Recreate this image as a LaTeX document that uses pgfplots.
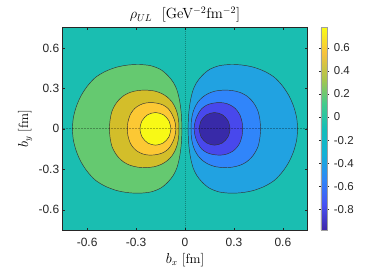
\documentclass[border=0pt]{standalone}
\usepackage{pgfplots}
\pgfplotsset{compat=1.18}
\usepackage{fontspec}
\newfontfamily\helv{Liberation Sans}
\definecolor{cBG}{RGB}{26,190,177}
\definecolor{cG}{RGB}{101,201,112}
\definecolor{cO}{RGB}{211,190,42}
\definecolor{cR}{RGB}{252,200,52}
\definecolor{cY}{RGB}{248,249,22}
\definecolor{cB1}{RGB}{33,162,225}
\definecolor{cB2}{RGB}{48,133,250}
\definecolor{cB3}{RGB}{72,72,236}
\definecolor{cB4}{RGB}{56,42,168}
\definecolor{frame}{RGB}{38,38,38}
\pgfplotsset{cf/.style={draw=black!80, line width=0.45bp, smooth, mark=none}}
\begin{document}
\begin{tikzpicture}
\path[use as bounding box] (0,0) rectangle (366bp,274bp);
\begin{axis}[
 at={(62.7bp,44bp)}, anchor=south west,
 scale only axis, width=244.6bp, height=202.3bp,
 xmin=-0.75, xmax=0.75, ymin=-0.75, ymax=0.75,
 xtick={-0.6,-0.3,0,0.3,0.6}, ytick={-0.6,-0.3,0,0.3,0.6},
 tick align=inside, major tick length=2.5bp,
 axis line style={frame, line width=0.5bp},
 tick style={frame, line width=0.5bp},
 axis background/.style={fill=cBG},
 /pgf/number format/assume math mode=true,
 tick label style={font=\helv\fontsize{12}{14}\selectfont, text=frame},
 xticklabel style={yshift=-5bp},
 xlabel={$b_x$ [fm]}, ylabel={$b_y$ [fm]},
 label style={font=\fontsize{13.5}{16}\selectfont},
 xlabel style={at={(axis description cs:0.5,-0.148)}, anchor=center},
 ylabel style={at={(axis description cs:-0.154,0.5)}, anchor=center},
 every axis title shift=0pt,
 title={$\rho_{UL}$\ \ [GeV$^{-2}$fm$^{-2}$]},
 title style={at={(axis description cs:0.5,1.043)}, anchor=base, inner sep=0pt, yshift=0pt, font=\fontsize{14.8}{17}\selectfont},
 colormap={parula}{rgb255(0cm)=(62,38,168); rgb255(1cm)=(72,82,244); rgb255(2cm)=(46,134,248); rgb255(3cm)=(18,177,214); rgb255(4cm)=(18,190,185); rgb255(5cm)=(66,203,140); rgb255(6cm)=(171,197,75); rgb255(7cm)=(247,194,60); rgb255(8cm)=(249,251,21)},
 point meta min=-0.979, point meta max=0.774,
 colorbar,
 colorbar style={
  at={(parent axis.north east)}, anchor=north west, xshift=5bp,
  scale only axis, width=6.6bp, height=202.3bp,
  ytick={-0.8,-0.6,-0.4,-0.2,0,0.2,0.4,0.6},
  /pgf/number format/assume math mode=true,
  yticklabel style={font=\helv\fontsize{11.5}{14}\selectfont, text=frame, xshift=1bp},
  tick align=outside, major tick length=2bp,
  axis line style={draw=gray!75, line width=0.5bp},
  tick style={frame, line width=0.5bp},
 },
]
% positive lobe
\addplot[cf, fill=cG] coordinates {(-0.691,0) (-0.685,0.08) (-0.668,0.16) (-0.640,0.24) (-0.600,0.315) (-0.550,0.38) (-0.49,0.425) (-0.42,0.457) (-0.35,0.473) (-0.28,0.477) (-0.21,0.468) (-0.15,0.44) (-0.105,0.395) (-0.072,0.345) (-0.050,0.29) (-0.035,0.22) (-0.026,0.15) (-0.021,0.08) (-0.019,0) (-0.021,-0.08) (-0.026,-0.15) (-0.035,-0.22) (-0.050,-0.29) (-0.072,-0.345) (-0.105,-0.395) (-0.15,-0.44) (-0.21,-0.468) (-0.28,-0.477) (-0.35,-0.473) (-0.42,-0.457) (-0.49,-0.425) (-0.55,-0.38) (-0.60,-0.315) (-0.64,-0.24) (-0.668,-0.16) (-0.685,-0.08) (-0.691,0)};
\addplot[cf, fill=cO] coordinates {(-0.464,0) (-0.459,0.07) (-0.448,0.13) (-0.430,0.175) (-0.407,0.213) (-0.375,0.247) (-0.337,0.270) (-0.290,0.284) (-0.235,0.287) (-0.185,0.280) (-0.143,0.262) (-0.108,0.235) (-0.080,0.200) (-0.060,0.158) (-0.047,0.114) (-0.039,0.06) (-0.037,0) (-0.039,-0.06) (-0.047,-0.114) (-0.060,-0.158) (-0.080,-0.200) (-0.108,-0.235) (-0.143,-0.262) (-0.185,-0.280) (-0.235,-0.287) (-0.290,-0.284) (-0.337,-0.270) (-0.375,-0.247) (-0.407,-0.213) (-0.430,-0.175) (-0.448,-0.13) (-0.459,-0.07) (-0.464,0)};
\addplot[cf, fill=cR] coordinates {(-0.354,0) (-0.350,0.05) (-0.337,0.102) (-0.318,0.138) (-0.294,0.165) (-0.257,0.187) (-0.215,0.195) (-0.170,0.190) (-0.133,0.176) (-0.103,0.150) (-0.082,0.114) (-0.066,0.07) (-0.058,0.03) (-0.056,0) (-0.058,-0.03) (-0.066,-0.07) (-0.082,-0.114) (-0.103,-0.150) (-0.133,-0.176) (-0.170,-0.190) (-0.215,-0.195) (-0.257,-0.187) (-0.294,-0.165) (-0.318,-0.138) (-0.337,-0.102) (-0.350,-0.05) (-0.354,0)};
\addplot[cf, fill=cY] coordinates {(-0.086,0) (-0.099,0.061) (-0.1335,0.105) (-0.181,0.121) (-0.2285,0.105) (-0.263,0.061) (-0.276,0) (-0.263,-0.061) (-0.2285,-0.105) (-0.181,-0.121) (-0.1335,-0.105) (-0.099,-0.061) (-0.086,0)};
% negative lobe
\addplot[cf, fill=cB1] coordinates {(0.691,0) (0.685,0.08) (0.668,0.16) (0.640,0.24) (0.600,0.315) (0.550,0.38) (0.49,0.425) (0.42,0.457) (0.35,0.473) (0.28,0.477) (0.21,0.468) (0.15,0.44) (0.105,0.395) (0.072,0.345) (0.050,0.29) (0.035,0.22) (0.026,0.15) (0.021,0.08) (0.019,0) (0.021,-0.08) (0.026,-0.15) (0.035,-0.22) (0.050,-0.29) (0.072,-0.345) (0.105,-0.395) (0.15,-0.44) (0.21,-0.468) (0.28,-0.477) (0.35,-0.473) (0.42,-0.457) (0.49,-0.425) (0.55,-0.38) (0.60,-0.315) (0.64,-0.24) (0.668,-0.16) (0.685,-0.08) (0.691,0)};
\addplot[cf, fill=cB2] coordinates {(0.464,0) (0.459,0.07) (0.448,0.13) (0.430,0.175) (0.407,0.213) (0.375,0.247) (0.337,0.270) (0.290,0.284) (0.235,0.287) (0.185,0.280) (0.143,0.262) (0.108,0.235) (0.080,0.200) (0.060,0.158) (0.047,0.114) (0.039,0.06) (0.037,0) (0.039,-0.06) (0.047,-0.114) (0.060,-0.158) (0.080,-0.200) (0.108,-0.235) (0.143,-0.262) (0.185,-0.280) (0.235,-0.287) (0.290,-0.284) (0.337,-0.270) (0.375,-0.247) (0.407,-0.213) (0.430,-0.175) (0.448,-0.13) (0.459,-0.07) (0.464,0)};
\addplot[cf, fill=cB3] coordinates {(0.354,0) (0.350,0.05) (0.337,0.102) (0.318,0.138) (0.294,0.165) (0.257,0.187) (0.215,0.195) (0.170,0.190) (0.133,0.176) (0.103,0.150) (0.082,0.114) (0.066,0.07) (0.058,0.03) (0.056,0) (0.058,-0.03) (0.066,-0.07) (0.082,-0.114) (0.103,-0.150) (0.133,-0.176) (0.170,-0.190) (0.215,-0.195) (0.257,-0.187) (0.294,-0.165) (0.318,-0.138) (0.337,-0.102) (0.350,-0.05) (0.354,0)};
\addplot[cf, fill=cB4] coordinates {(0.086,0) (0.099,0.061) (0.1335,0.105) (0.181,0.121) (0.2285,0.105) (0.263,0.061) (0.276,0) (0.263,-0.061) (0.2285,-0.105) (0.181,-0.121) (0.1335,-0.105) (0.099,-0.061) (0.086,0)};
% zero lines
\addplot[black, opacity=0.3, line width=0.5bp, dash pattern=on 1bp off 1bp] coordinates {(0,-0.75) (0,0.75)};
\addplot[black, opacity=0.3, line width=0.7bp, dash pattern=on 2bp off 1bp] coordinates {(-0.75,0) (0.75,0)};
\end{axis}
\end{tikzpicture}
\end{document}
